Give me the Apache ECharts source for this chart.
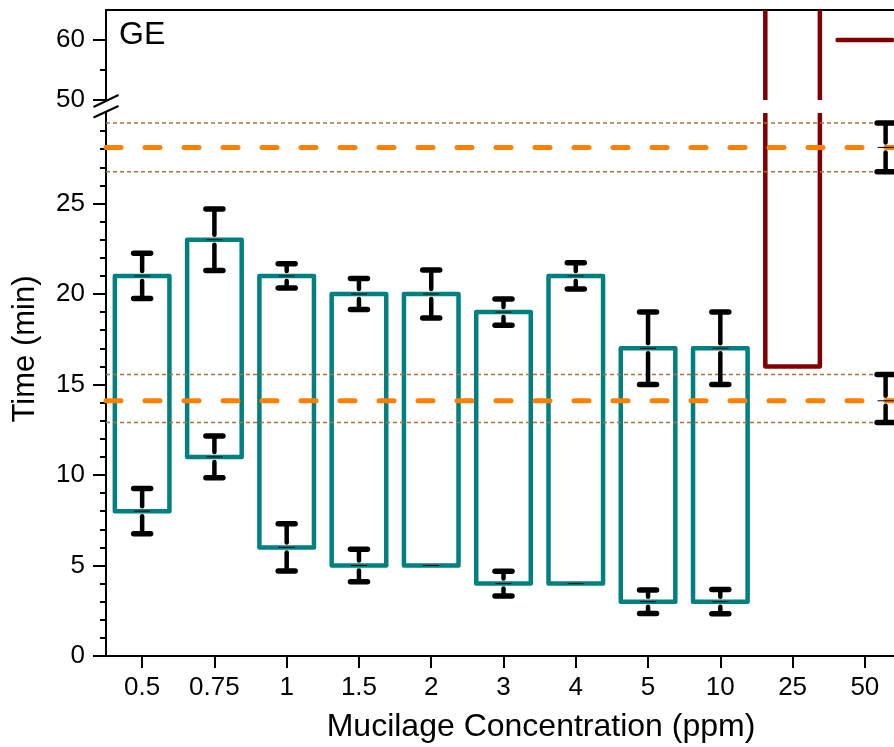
<!DOCTYPE html>
<html>
<head>
<meta charset="utf-8">
<script src="https://cdn.jsdelivr.net/npm/echarts@6/dist/echarts.min.js"></script>
<style>
html,body{margin:0;padding:0;background:#fff;}
#chart{width:894px;height:747px;}
</style>
</head>
<body>
<div id="chart"></div>
<script>
// ---------------- DATA ----------------
const categories = ['0.5', '0.75', '1', '1.5', '2', '3', '4', '5', '10', '25', '50'];
const boxLow  = [8, 11, 6, 5, 5, 4, 4, 3, 3, 16, 60];
const boxHigh = [21, 23, 21, 20, 20, 19, 21, 17, 17, 120, 60];
const lowErr  = [1.25, 1.15, 1.3, 0.9, 0, 0.68, 0, 0.65, 0.67, null, null];
const highErr = [1.25, 1.7, 0.67, 0.85, 1.33, 0.72, 0.73, 2.0, 2.0, null, null];

const refMean  = [28.1, 14.1];
const refUpper = [29.45, 15.55];
const refLower = [26.75, 12.9];

const yMajorLower = [0, 5, 10, 15, 20, 25];
const yMinorLower = [1, 2, 3, 4, 6, 7, 8, 9, 11, 12, 13, 14, 16, 17, 18, 19, 21, 22, 23, 24, 26, 27, 28, 29];
const yMajorUpper = [50, 60];
const yMinorUpper = [55];

// ---------------- STYLE ----------------
const FONT = '"Liberation Sans", Arial, Helvetica, sans-serif';
const TEAL = '#008080', DARKRED = '#800000';
const boxColors = [TEAL, TEAL, TEAL, TEAL, TEAL, TEAL, TEAL, TEAL, TEAL, DARKRED, DARKRED];
const BOX_RATIO = 0.755;
const GRID_LEFT = 106, GRID_WIDTH = 795;
const UP_TOP = 10, UP_H = 90;
const LO_TOP = 113, LO_H = 543;

const boxData = categories.map((c, i) => [i, boxLow[i], boxHigh[i]]);
const errData = [];
categories.forEach((c, i) => {
  if (lowErr[i] != null) errData.push([i, boxLow[i], boxLow[i] + lowErr[i], boxLow[i] - lowErr[i], 0]);
  if (highErr[i] != null) errData.push([i, boxHigh[i], boxHigh[i] + highErr[i], boxHigh[i] - highErr[i], 0]);
});
refMean.forEach((m, k) => errData.push([categories.length - 1, m, refUpper[k], refLower[k], 1]));
const refLineData = [];
refMean.forEach((m, k) => {
  refLineData.push([0, m, 0]);
  refLineData.push([0, refUpper[k], 1]);
  refLineData.push([0, refLower[k], 1]);
});

function renderBox(params, api) {
  const i = api.value(0), lo = api.value(1), hi = api.value(2);
  const cs = params.coordSys;
  const pLo = api.coord([i, lo]), pHi = api.coord([i, hi]);
  const bw = api.size([1, 0])[0] * BOX_RATIO;
  const xl = pLo[0] - bw / 2, xr = pLo[0] + bw / 2;
  const top = cs.y, bot = cs.y + cs.height;
  const yLo = pLo[1], yHi = pHi[1];
  const loIn = yLo >= top - 0.5 && yLo <= bot + 0.5;
  const hiIn = yHi >= top - 0.5 && yHi <= bot + 0.5;
  const yA = Math.min(Math.max(yLo, top), bot);
  const yB = Math.min(Math.max(yHi, top), bot);
  const style = {stroke: boxColors[params.dataIndex], lineWidth: 4.5, fill: null, lineJoin: 'round', lineCap: 'butt'};
  if (loIn && hiIn) {
    return {type: 'polygon', shape: {points: [[xl, yLo], [xr, yLo], [xr, yHi], [xl, yHi]]}, style: style};
  }
  if (loIn) {
    return {type: 'polyline', shape: {points: [[xl, yB], [xl, yLo], [xr, yLo], [xr, yB]]}, style: style};
  }
  if (hiIn) {
    return {type: 'polyline', shape: {points: [[xl, yA], [xl, yHi], [xr, yHi], [xr, yA]]}, style: style};
  }
  if (yA - yB < 1) return null;
  return {type: 'group', children: [
    {type: 'line', shape: {x1: xl, y1: yA, x2: xl, y2: yB}, style: style},
    {type: 'line', shape: {x1: xr, y1: yA, x2: xr, y2: yB}, style: style}
  ]};
}

function renderErr(params, api) {
  const i = api.value(0), m = api.value(1), up = api.value(2), dn = api.value(3), off = api.value(4);
  const band = api.size([1, 0])[0];
  const pm = api.coord([i, m]);
  const x = pm[0] + (off ? band * 0.287 : 0);
  const yU = api.coord([i, up])[1], yD = api.coord([i, dn])[1], yM = pm[1];
  const GAP = 5, CAP = 8.5;
  const bar = {stroke: '#000', lineWidth: 4.5, lineCap: 'round'};
  const cap = {stroke: '#000', lineWidth: 5.5, lineCap: 'round'};
  const children = [];
  if (yD - yU > 0.5) {
    if (yM - GAP - yU > 0) children.push({type: 'line', shape: {x1: x, y1: yU, x2: x, y2: yM - GAP}, style: bar});
    if (yD - (yM + GAP) > 0) children.push({type: 'line', shape: {x1: x, y1: yM + GAP, x2: x, y2: yD}, style: bar});
    children.push({type: 'line', shape: {x1: x - CAP, y1: yU, x2: x + CAP, y2: yU}, style: cap});
    children.push({type: 'line', shape: {x1: x - CAP, y1: yD, x2: x + CAP, y2: yD}, style: cap});
  }
  children.push({type: 'line', shape: {x1: x - 8, y1: yM, x2: x + 8, y2: yM}, style: {stroke: '#000', lineWidth: 1}});
  return {type: 'group', children: children};
}

function renderRef(params, api) {
  const cs = params.coordSys;
  const y = api.coord([0, api.value(1)])[1];
  const dotted = api.value(2) === 1;
  const style = dotted
    ? {stroke: '#B0703C', lineWidth: 1.5, lineDash: [4, 3]}
    : {stroke: '#FF8000', lineWidth: 5, lineDash: [15, 24], lineCap: 'round'};
  return {type: 'line', shape: {x1: cs.x, y1: y, x2: cs.x + cs.width, y2: y}, style: style};
}

const axisLineStyle = {color: '#000', width: 2};
const labelStyle = {color: '#000', fontSize: 26, fontFamily: FONT};

const option = {
  animation: false,
  backgroundColor: '#fff',
  grid: [
    {left: GRID_LEFT, top: UP_TOP, width: GRID_WIDTH, height: UP_H, containLabel: false, outerBoundsMode: 'none'},
    {left: GRID_LEFT, top: LO_TOP, width: GRID_WIDTH, height: LO_H, containLabel: false, outerBoundsMode: 'none'}
  ],
  xAxis: [
    {gridIndex: 0, type: 'category', data: categories, position: 'top', boundaryGap: true,
     axisLine: {show: true, onZero: false, lineStyle: axisLineStyle}, axisTick: {show: false},
     axisLabel: {show: false}, splitLine: {show: false}},
    {gridIndex: 1, type: 'category', data: categories, position: 'bottom', boundaryGap: true,
     axisLine: {show: true, onZero: false, lineStyle: axisLineStyle},
     axisTick: {show: true, alignWithLabel: true, length: 12, inside: false, lineStyle: axisLineStyle},
     axisLabel: Object.assign({margin: 19, interval: 0}, labelStyle), splitLine: {show: false}}
  ],
  yAxis: [
    {gridIndex: 0, type: 'value', position: 'left', min: 50, max: 65, interval: 5,
     axisLine: {show: true, onZero: false, lineStyle: axisLineStyle},
     axisTick: {show: true, length: 13, customValues: yMajorUpper, lineStyle: axisLineStyle},
     axisLabel: Object.assign({margin: 21, customValues: yMajorUpper}, labelStyle),
     splitLine: {show: false}},
    {gridIndex: 0, type: 'value', position: 'left', offset: 0, min: 50, max: 65, interval: 5,
     axisLine: {show: false}, axisTick: {show: true, length: 6, customValues: yMinorUpper, lineStyle: axisLineStyle},
     axisLabel: {show: false}, splitLine: {show: false}},
    {gridIndex: 1, type: 'value', position: 'left', min: 0, max: 30, interval: 5,
     axisLine: {show: true, onZero: false, lineStyle: axisLineStyle},
     axisTick: {show: true, length: 13, customValues: yMajorLower, lineStyle: axisLineStyle},
     axisLabel: Object.assign({margin: 21, customValues: yMajorLower}, labelStyle),
     splitLine: {show: false}},
    {gridIndex: 1, type: 'value', position: 'left', offset: 0, min: 0, max: 30, interval: 5,
     axisLine: {show: false}, axisTick: {show: true, length: 6, customValues: yMinorLower, lineStyle: axisLineStyle},
     axisLabel: {show: false}, splitLine: {show: false}}
  ],
  series: [
    {type: 'custom', name: 'boxUpper', xAxisIndex: 0, yAxisIndex: 0, z: 2, data: boxData, renderItem: renderBox},
    {type: 'custom', name: 'boxLower', xAxisIndex: 1, yAxisIndex: 2, z: 2, data: boxData, renderItem: renderBox},
    {type: 'custom', name: 'refLines', xAxisIndex: 1, yAxisIndex: 2, z: 3, data: refLineData, renderItem: renderRef},
    {type: 'custom', name: 'errors', xAxisIndex: 1, yAxisIndex: 2, z: 4, data: errData, renderItem: renderErr}
  ],
  graphic: [
    {type: 'text', x: 119, y: 35, z: 10, style: {text: 'GE', font: '32px ' + FONT, fill: '#000', align: 'left', verticalAlign: 'middle'}},
    {type: 'text', x: 25, y: 349, rotation: Math.PI / 2, z: 10, style: {text: 'Time (min)', font: '31px ' + FONT, fill: '#000', align: 'center', verticalAlign: 'middle'}},
    {type: 'text', x: 541, y: 727, z: 10, style: {text: 'Mucilage Concentration (ppm)', font: '32px ' + FONT, fill: '#000', align: 'center', verticalAlign: 'middle'}},
    {type: 'line', z: 10, shape: {x1: GRID_LEFT - 12.5, y1: UP_TOP + UP_H + 7, x2: GRID_LEFT + 12.5, y2: UP_TOP + UP_H - 5}, style: {stroke: '#000', lineWidth: 2}},
    {type: 'line', z: 10, shape: {x1: GRID_LEFT - 12.5, y1: LO_TOP + 4.5, x2: GRID_LEFT + 12.5, y2: LO_TOP - 7}, style: {stroke: '#000', lineWidth: 2}}
  ]
};

const chart = echarts.init(document.getElementById('chart'), null, {renderer: 'canvas'});
chart.setOption(option);
</script>
</body>
</html>
